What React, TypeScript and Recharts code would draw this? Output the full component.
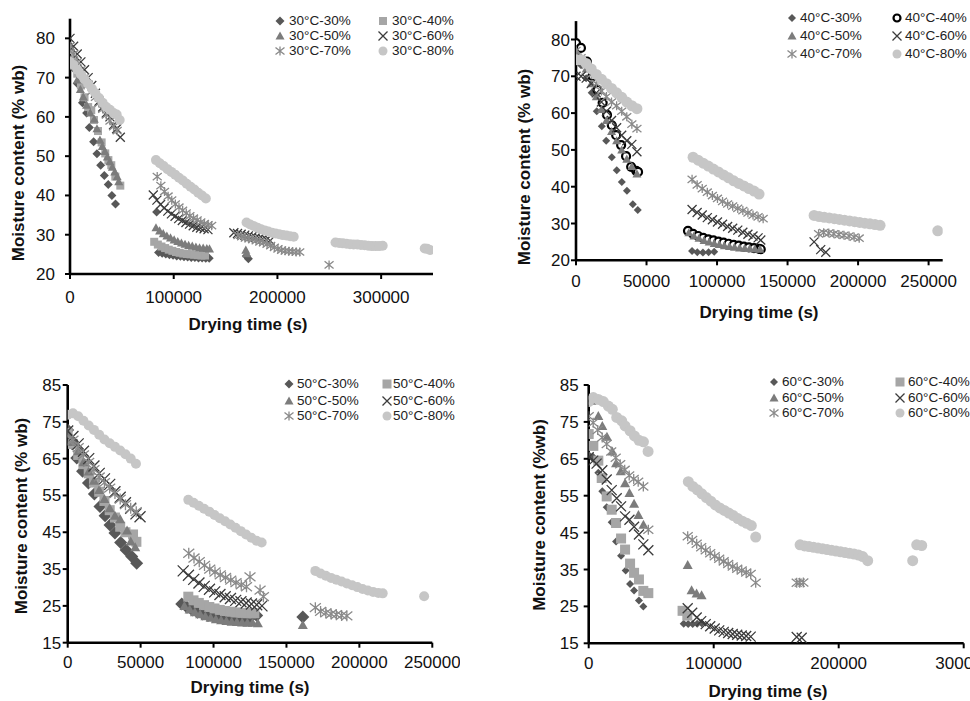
import React from 'react'
import { ScatterChart, Scatter, XAxis, YAxis } from 'recharts'

type Pt = [number, number]

// drying time (s), moisture content (% wb)

// 30 °C
const S30_30: Pt[] = [
  [0, 77], [2600, 72.5], [7000, 68.5], [12000, 63.6], [16000, 61], [18600, 57.3], [22800, 53.7],
  [26000, 50.6], [29600, 47.7], [33100, 45.1], [36900, 42.8], [40400, 40], [43900, 37.8],
  [83500, 35.8], [85400, 25.5], [88900, 25.3], [92400, 25.1], [95900, 24.9], [99400, 24.8],
  [102900, 24.6], [106400, 24.5], [109900, 24.4], [113400, 24.3], [116900, 24.2], [120400, 24.2],
  [123900, 24.1], [127400, 24.1], [130900, 24], [134200, 24],
  [170000, 24.6], [172000, 23.9],
]
const S30_40: Pt[] = [
  [0, 77], [3500, 74.5], [7000, 71], [10500, 68], [14000, 65], [17500, 62.5], [20500, 61.7],
  [23100, 59.2], [27000, 56.4], [30500, 53.5], [34000, 50.7], [37000, 49], [39800, 47.7],
  [43700, 44.8], [48500, 42.5],
  [81200, 28.2], [84700, 27.5], [88200, 27], [91700, 26.6], [95200, 26.2], [98700, 25.9],
  [102200, 25.6], [105700, 25.4], [109200, 25.2], [112700, 25.1], [116200, 25], [119700, 24.9],
  [123200, 24.8], [126700, 24.7], [130200, 24.7],
]
const S30_50: Pt[] = [
  [0, 78], [3500, 73], [7000, 69.4], [10000, 67], [12800, 65.1], [16000, 63], [19500, 61],
  [23400, 59.4], [26000, 57], [28900, 54.1], [31200, 52.5], [33600, 51.2], [36000, 49.8],
  [38400, 48.6], [40800, 47.2], [43200, 46], [45500, 44.8], [47000, 43.5],
  [82900, 31.8], [86400, 31], [89900, 30.3], [93400, 29.7], [96900, 29.2], [100400, 28.7],
  [103900, 28.3], [107400, 27.9], [110900, 27.6], [114400, 27.3], [117900, 27.1], [121400, 26.9],
  [124900, 26.7], [128400, 26.6], [131900, 26.5], [134500, 26.4],
  [169500, 26.1], [170500, 25.2],
]
const S30_60: Pt[] = [
  [0, 80], [3500, 78], [7000, 76], [10500, 74], [14000, 72], [17500, 70], [21000, 68],
  [24500, 66], [28000, 64], [31500, 62.5], [35000, 61], [38500, 60], [42000, 58], [45000, 57],
  [48500, 54.8],
  [80300, 40.1], [83800, 38.8], [87300, 37.7], [90800, 36.8], [94300, 36], [97800, 35.3],
  [101300, 34.7], [104800, 34.1], [108300, 33.6], [111800, 33.1], [115300, 32.7], [118800, 32.3],
  [122300, 31.9], [125800, 31.7], [129300, 31.5], [133000, 31.3],
  [158000, 30.5], [161500, 30.3], [165000, 30.1], [168500, 29.9], [172000, 29.7], [175500, 29.5],
  [179000, 29.3], [182500, 29.1], [186000, 28.9], [189500, 28.7], [193000, 28.5],
]
const S30_70: Pt[] = [
  [0, 78], [3500, 76], [7000, 74], [10500, 72], [14000, 70], [17500, 68.3], [21000, 66.5],
  [24500, 65], [28000, 63.5], [31500, 62], [35000, 60.5], [38500, 59], [42000, 57.5], [45500, 56.5],
  [84100, 44.8], [87600, 42.5], [91100, 41], [94600, 39.8], [98100, 38.8], [101600, 37.8],
  [105100, 37], [108600, 36.2], [112100, 35.5], [115600, 34.8], [119100, 34.2], [122600, 33.7],
  [126100, 33.2], [129600, 32.8], [133100, 32.5], [136600, 32.3],
  [162000, 29.8], [165500, 29.5], [169000, 29.2], [172500, 29], [176000, 28.8], [179500, 28.5],
  [183000, 28.2], [186500, 28], [190000, 27.6], [193500, 27.2], [197000, 26.8], [200500, 26.4],
  [204000, 26.1], [207500, 25.9], [211000, 25.8], [214500, 25.7], [218000, 25.6], [221500, 25.6],
  [249800, 22.3],
]
const S30_80: Pt[] = [
  [0, 74], [3500, 73.2], [7000, 72], [10500, 70.8], [14000, 69.6], [17500, 68.4], [21000, 67.2],
  [24500, 66], [28000, 64.8], [31500, 63.6], [35000, 62.5], [38500, 61.8], [42000, 61], [45000, 60.6],
  [47900, 59.2],
  [82900, 49], [86600, 48.2], [90300, 47.5], [94000, 46.7], [97700, 46], [101400, 45.3],
  [105100, 44.5], [108800, 43.8], [112500, 43], [116200, 42.2], [119900, 41.5], [123600, 40.7],
  [127300, 40], [131000, 39.2],
  [170200, 33.1], [173700, 32.6], [177200, 32.2], [180700, 31.8], [184200, 31.4], [187700, 31.1],
  [191200, 30.8], [194700, 30.5], [198200, 30.3], [201700, 30.1], [205200, 29.9], [208700, 29.8],
  [212200, 29.6], [215700, 29.5],
  [256000, 28], [259500, 27.9], [263000, 27.8], [266500, 27.7], [270000, 27.6], [273500, 27.5],
  [277000, 27.5], [280500, 27.4], [284000, 27.3], [287500, 27.2], [291000, 27.1], [294500, 27.1],
  [298000, 27.1], [301500, 27.2],
  [342000, 26.5], [344500, 26.4], [347000, 26.1],
]

// 40 °C
const S40_30: Pt[] = [
  [0, 76], [3600, 73], [7200, 69.5], [11100, 65.5], [14700, 60.5], [18300, 56.4], [21400, 52.5],
  [25400, 48], [28900, 44.5], [32500, 41.3], [36100, 38.9], [40300, 35.2], [43800, 33.7],
  [82300, 22.5], [86000, 22.2], [90000, 22.1], [94000, 22.2], [98000, 22.3],
]
const S40_40: Pt[] = [
  [0, 79], [3500, 77.7], [7700, 74], [11700, 70.1], [15300, 66.3], [18900, 62.8], [22000, 59.5],
  [25400, 56.7], [28500, 54], [32000, 51.3], [35500, 48.3], [39100, 45.4], [42700, 44.3], [44000, 44],
  [79400, 28], [83000, 27.2], [86600, 26.6], [90200, 26.1], [93800, 25.7], [97400, 25.4],
  [101000, 25.1], [104600, 24.8], [108200, 24.5], [111800, 24.2], [115400, 24], [119000, 23.7],
  [122600, 23.5], [126200, 23.3], [129800, 23.1], [131000, 23],
]
const S40_50: Pt[] = [
  [0, 77], [3600, 75], [7200, 72], [10800, 68], [14400, 64.5], [18000, 61], [21600, 58],
  [25200, 55], [28800, 52.5], [32400, 50], [36000, 47.5], [39600, 45.5], [43200, 43.5],
  [80000, 27.5], [83600, 26.6], [87200, 26], [90800, 25.4], [94400, 25], [98000, 24.6],
  [101600, 24.3], [105200, 24], [108800, 23.8], [112400, 23.6], [116000, 23.4], [119600, 23.3],
  [123200, 23.2], [126800, 23.1], [130400, 23],
]
const S40_60: Pt[] = [
  [0, 70], [3600, 70], [7200, 69.5], [10800, 68], [14400, 65.5], [18000, 63], [21600, 60.5],
  [25200, 58], [28800, 56], [32400, 54], [36000, 52.5], [39600, 51.5], [43200, 49.5],
  [82300, 33.8], [85900, 33], [89500, 32.3], [93100, 31.6], [96700, 31], [100300, 30.4],
  [103900, 29.8], [107500, 29.2], [111100, 28.7], [114700, 28.2], [118300, 27.6], [121900, 27.1],
  [125500, 26.6], [129100, 26.1], [131000, 25.5],
  [168800, 25], [173500, 22.9], [177100, 22.2],
]
const S40_70: Pt[] = [
  [0, 77], [3600, 75], [7200, 73], [10800, 70.5], [14400, 68], [18000, 66], [21600, 64.5],
  [25200, 63], [28800, 62], [32400, 60.5], [36000, 59], [39600, 57], [43200, 55.8],
  [82300, 42], [85900, 40.5], [89500, 39.5], [93100, 38.5], [96700, 37.6], [100300, 36.8],
  [103900, 36], [107500, 35.3], [111100, 34.7], [114700, 34.1], [118300, 33.5], [121900, 32.9],
  [125500, 32.3], [129100, 31.8], [132700, 31.3],
  [172000, 27.2], [175600, 27.5], [179200, 27.4], [182800, 27.2], [186400, 27], [190000, 26.8],
  [193600, 26.6], [197200, 26.3], [200800, 26],
]
const S40_80: Pt[] = [
  [0, 74.5], [3600, 74.5], [7200, 73.5], [10800, 72], [14400, 70.5], [18000, 69.2], [21600, 68],
  [25200, 66.7], [28800, 65.5], [32400, 64.3], [36000, 63], [39600, 62], [43200, 61.2],
  [83000, 48], [86600, 47.2], [90200, 46.4], [93800, 45.6], [97400, 44.8], [101000, 44],
  [104600, 43.2], [108200, 42.4], [111800, 41.6], [115400, 40.9], [119000, 40.2], [122600, 39.5],
  [126200, 38.8], [129800, 38],
  [168800, 32.2], [172400, 31.9], [176000, 31.7], [179600, 31.5], [183200, 31.3], [186800, 31.1],
  [190400, 30.9], [194000, 30.7], [197600, 30.5], [201200, 30.3], [204800, 30.1], [208400, 29.9],
  [212000, 29.7], [215600, 29.5],
  [256500, 28],
]

// 50 °C
const S50_30: Pt[] = [
  [0, 72.8], [3200, 69], [6200, 65.2], [10200, 61.6], [14200, 58.4], [18300, 55.4], [22100, 52],
  [25600, 49.5], [29000, 47], [32400, 44.8], [36300, 42.2], [40000, 40.2], [43900, 38.4], [47300, 36.6],
  [78200, 25.5], [81800, 24.6], [85400, 23.9], [89000, 23.3], [92600, 22.8], [96200, 22.4],
  [99800, 22.1], [103400, 21.9], [107000, 21.7], [110600, 21.6], [114200, 21.5], [117800, 21.5],
  [121400, 21.6], [125000, 21.8], [129600, 22.4],
  [161200, 22],
]
const S50_40: Pt[] = [
  [0, 72], [3600, 69], [7200, 66], [10800, 63.5], [14400, 61], [18000, 58.5], [21600, 56],
  [25200, 53.5], [28800, 51], [32400, 49], [36000, 46.5], [39600, 45], [44800, 44.4], [47100, 42.4],
  [82700, 27.5], [86300, 26.5], [89900, 25.8], [93500, 25.2], [97100, 24.7], [100700, 24.3],
  [104300, 23.9], [107900, 23.6], [111500, 23.4], [115100, 23.2], [118700, 23.1], [122300, 23],
  [125900, 23], [128000, 23],
]
const S50_50: Pt[] = [
  [0, 72], [3600, 69.5], [7200, 67], [10800, 64], [14400, 61.5], [18000, 59], [21600, 56.5],
  [25200, 54], [28800, 51.5], [32400, 49.5], [36000, 48.5], [40700, 45.5], [43200, 42.5], [46300, 40.9],
  [80000, 25], [83600, 24], [87200, 23.3], [90800, 22.7], [94400, 22.2], [98000, 21.8],
  [101600, 21.4], [105200, 21.1], [108800, 20.9], [112400, 20.7], [116000, 20.6], [119600, 20.5],
  [123200, 20.4], [126800, 20.4], [130400, 20.3],
  [161200, 19.8],
]
const S50_60: Pt[] = [
  [0, 72.5], [3600, 71], [7200, 69], [10800, 67], [14400, 65], [18000, 63], [21600, 61],
  [25200, 59.5], [28800, 58], [32400, 56], [36000, 54.5], [39600, 53], [43200, 51.5], [46800, 50],
  [49600, 49.2],
  [79200, 34.5], [82800, 33.3], [86400, 32.2], [90000, 31.2], [93600, 30.3], [97200, 29.5],
  [100800, 28.8], [104400, 28.1], [108000, 27.5], [111600, 27], [115200, 26.5], [118800, 26.1],
  [122400, 25.8], [126000, 25.5], [129600, 25.3], [133200, 25],
]
const S50_70: Pt[] = [
  [0, 70], [3600, 70], [7200, 68], [10800, 66], [14400, 64], [18000, 62], [21600, 60],
  [25200, 58.5], [28800, 57], [32400, 55.5], [36000, 54], [39600, 52.5], [43200, 51.5], [47000, 50.6],
  [83000, 39.3], [86600, 38], [90200, 37], [93800, 36], [97400, 35], [101000, 34.2],
  [104600, 33.4], [108200, 32.7], [111800, 32], [115400, 31.3], [119000, 30.7], [122600, 30.2],
  [125000, 32.9], [131900, 29.3], [134200, 27.5],
  [169800, 24.5], [173400, 23.5], [177000, 23.1], [180600, 22.8], [184200, 22.6], [187800, 22.4],
  [191400, 22.3],
]
const S50_80: Pt[] = [
  [0, 76.9], [3600, 77.3], [7200, 76.5], [10800, 75.3], [14400, 74], [18000, 72.8], [21600, 71.5],
  [25200, 70.2], [28800, 69.2], [32400, 68.2], [36000, 67.2], [39600, 66.2], [43200, 65], [46800, 63.6],
  [82700, 53.8], [86300, 53], [89900, 52.2], [93500, 51.4], [97100, 50.6], [100700, 49.7],
  [104300, 48.8], [107900, 48], [111500, 47.1], [115100, 46.2], [118700, 45.3], [122300, 44.4],
  [125900, 43.5], [129500, 42.7], [133000, 42.2],
  [169800, 34.5], [173400, 33.8], [177000, 33.2], [180600, 32.6], [184200, 32.1], [187800, 31.6],
  [191400, 31.1], [195000, 30.6], [198600, 30.1], [202200, 29.6], [205800, 29.2], [209400, 28.8],
  [213000, 28.5], [216000, 28.4],
  [244400, 27.6],
]

// 60 °C
const S60_30: Pt[] = [
  [0, 66], [3600, 65.5], [7700, 61.2], [10900, 56.2], [14400, 51.9], [18400, 47.8], [21900, 42.6],
  [25900, 38.7], [29600, 34.7], [33100, 31.1], [36300, 29.3], [40200, 26.6], [43700, 25],
  [76000, 20.3], [79600, 20.2], [83200, 20.2], [86800, 20.3], [90400, 20.4],
]
const S60_40: Pt[] = [
  [0, 71.7], [3700, 68.5], [7700, 64.5], [10400, 59.8], [14400, 54.8], [18400, 51.2], [21900, 47.6],
  [25900, 43.4], [29100, 40.4], [33100, 36.6], [36300, 34.1], [40200, 32.3], [43700, 29.2], [47700, 28.6],
  [75100, 23.8], [78900, 22.5],
]
const S60_50: Pt[] = [
  [2300, 80.7], [7700, 76.6], [10900, 73.9], [14600, 71], [18900, 67], [21900, 63.8], [25600, 61.6],
  [29100, 58.4], [32600, 55.7], [36300, 52.8], [39800, 49.8], [43800, 47.1],
  [79200, 36.2], [82300, 29.4], [86300, 28.5], [90300, 28],
]
const S60_60: Pt[] = [
  [0, 65.4], [3600, 64.5], [6300, 63.7], [10900, 61.9], [14400, 59.4], [18400, 56.5], [22400, 54.3],
  [25900, 52.1], [29100, 49.4], [32600, 48.5], [36300, 46.6], [40200, 44.5], [43700, 41.8], [47700, 40.2],
  [79200, 24.5], [82800, 23.3], [86400, 22], [90000, 21], [93600, 20.2], [97200, 19.6],
  [100800, 19], [104400, 18.5], [108000, 18.1], [111600, 17.8], [115200, 17.5], [118800, 17.3],
  [122400, 17.1], [126000, 17], [129600, 16.8],
  [166400, 16.7], [170400, 16.5],
]
const S60_70: Pt[] = [
  [0, 76.5], [3600, 74.8], [7200, 72.8], [10800, 70.8], [14400, 69], [18000, 67], [21600, 65.3],
  [25200, 63.5], [28800, 62], [32400, 60.5], [36000, 59.5], [39600, 58.8], [43700, 57.5], [47700, 45.8],
  [79200, 44], [82800, 43], [86400, 42], [90000, 41], [93600, 40.2], [97200, 39.4],
  [100800, 38.6], [104400, 37.9], [108000, 37.2], [111600, 36.5], [115200, 35.8], [118800, 35.2],
  [122400, 34.7], [126000, 34.2], [129600, 33.8], [133600, 31.4],
  [166400, 31.4], [168800, 31.4], [171700, 31.5],
]
const S60_80: Pt[] = [
  [0, 80.5], [3700, 81.6], [7700, 81.1], [11700, 80.5], [15700, 79.3], [18900, 78.4], [22400, 76.2],
  [26400, 75.3], [29100, 73.9], [33100, 72.6], [36600, 71.2], [40200, 70], [43800, 69.6], [47500, 67],
  [79700, 58.8], [83300, 57.5], [86900, 56.6], [90500, 55.5], [94100, 54.5], [97700, 53.5],
  [101300, 52.5], [104900, 51.7], [108500, 51], [112100, 50.3], [115700, 49.6], [119300, 48.8],
  [122900, 48.1], [126500, 47.5], [130100, 46.9], [133600, 43.8],
  [169100, 41.7], [172700, 41.4], [176300, 41.2], [179900, 41], [183500, 40.8], [187100, 40.6],
  [190700, 40.4], [194300, 40.2], [197900, 40], [201500, 39.8], [205100, 39.6], [208700, 39.4],
  [212300, 39.2], [215900, 38.9], [219200, 38.5], [223200, 37.4],
  [259200, 37.4], [262400, 41.7], [266400, 41.5],
]

const X_TICKS_A = [0, 100000, 200000, 300000]
const X_TICKS_B = [0, 50000, 100000, 150000, 200000, 250000]
const Y_TICKS_20 = [20, 30, 40, 50, 60, 70, 80]
const Y_TICKS_15 = [15, 25, 35, 45, 55, 65, 75, 85]

type Kind = 'diamond' | 'square' | 'triangle' | 'x' | 'star' | 'circle' | 'ring'

const FILL: Record<Kind, string> = {
  diamond: '#585858',
  square: '#a6a6a6',
  triangle: '#7c7c7c',
  x: '#3c3c3c',
  star: '#8a8a8a',
  circle: '#c6c6c6',
  ring: '#000000',
}

function Glyph({ kind, cx, cy, r }: { kind: Kind; cx: number; cy: number; r: number }) {
  const c = FILL[kind]
  switch (kind) {
    case 'diamond':
      return <path d={`M${cx},${cy - r}L${cx + r},${cy}L${cx},${cy + r}L${cx - r},${cy}Z`} fill={c} />
    case 'square':
      return <rect x={cx - r} y={cy - r} width={r * 2} height={r * 2} fill={c} />
    case 'triangle':
      return <path d={`M${cx},${cy - r}L${cx + r},${cy + r * 0.8}L${cx - r},${cy + r * 0.8}Z`} fill={c} />
    case 'x':
      return (
        <path
          d={`M${cx - r},${cy - r}L${cx + r},${cy + r}M${cx - r},${cy + r}L${cx + r},${cy - r}`}
          stroke={c}
          strokeWidth={1.3}
          fill="none"
        />
      )
    case 'star':
      return (
        <path
          d={`M${cx - r},${cy - r * 0.8}L${cx + r},${cy + r * 0.8}M${cx - r},${cy + r * 0.8}L${cx + r},${cy - r * 0.8}M${cx},${cy - r}L${cx},${cy + r}`}
          stroke={c}
          strokeWidth={1.3}
          fill="none"
        />
      )
    case 'ring':
      return <circle cx={cx} cy={cy} r={r - 1} fill="#fff" stroke={c} strokeWidth={2.2} />
    default:
      return <circle cx={cx} cy={cy} r={r} fill={c} />
  }
}

const shapeOf = (kind: Kind, r: number) => (props: any) => {
  const { cx, cy } = props
  if (cx == null || cy == null) return <g />
  return <Glyph kind={kind} cx={cx} cy={cy} r={r} />
}

interface SeriesDef {
  name: string
  data: Pt[]
  kind: Kind
  r: number
}

interface PanelDef {
  left: number
  top: number
  width: number
  height: number
  margin: { top: number; right: number; bottom: number; left: number }
  yWidth: number
  xDomain: [number, number]
  xTicks: number[]
  yDomain: [number, number]
  yTicks: number[]
  xTickMargin: number
  yTickMargin: number
  series: SeriesDef[]
  legendMarkX: number[]
  legendTextX: number[]
  legendRows: number[]
  yTitle: { x: number; y: number; text: string }
  xTitle: { x: number; y: number }
}

const PANELS: PanelDef[] = [
  {
    left: 0, top: 0, width: 460, height: 314,
    margin: { top: 18.7, right: 27, bottom: 0, left: 0 },
    yWidth: 70, xDomain: [0, 350000], xTicks: X_TICKS_A, yDomain: [20, 85], yTicks: Y_TICKS_20,
    xTickMargin: 12, yTickMargin: 10,
    series: [
      { name: '30°C-30%', data: S30_30, kind: 'diamond', r: 4.5 },
      { name: '30°C-40%', data: S30_40, kind: 'square', r: 4 },
      { name: '30°C-50%', data: S30_50, kind: 'triangle', r: 4.5 },
      { name: '30°C-60%', data: S30_60, kind: 'x', r: 4.5 },
      { name: '30°C-70%', data: S30_70, kind: 'star', r: 4.5 },
      { name: '30°C-80%', data: S30_80, kind: 'circle', r: 5 },
    ],
    legendMarkX: [280, 383], legendTextX: [289, 392], legendRows: [21, 36, 51],
    yTitle: { x: 19, y: 163, text: 'Moisture content (% wb)' },
    xTitle: { x: 248, y: 325 },
  },
  {
    left: 490, top: 0, width: 480, height: 300.3,
    margin: { top: 21.1, right: 27.3, bottom: 0, left: 0 },
    yWidth: 86, xDomain: [0, 260000], xTicks: X_TICKS_B, yDomain: [20, 85], yTicks: Y_TICKS_20,
    xTickMargin: 9.5, yTickMargin: 1,
    series: [
      { name: '40°C-30%', data: S40_30, kind: 'diamond', r: 4 },
      { name: '40°C-40%', data: S40_40, kind: 'ring', r: 5 },
      { name: '40°C-50%', data: S40_50, kind: 'triangle', r: 4.5 },
      { name: '40°C-60%', data: S40_60, kind: 'x', r: 4.5 },
      { name: '40°C-70%', data: S40_70, kind: 'star', r: 4.5 },
      { name: '40°C-80%', data: S40_80, kind: 'circle', r: 5.5 },
    ],
    legendMarkX: [792, 897], legendTextX: [800, 905], legendRows: [18, 36, 54],
    yTitle: { x: 525, y: 167, text: 'Moisture content (% wb)' },
    xTitle: { x: 759, y: 313 },
  },
  {
    left: 0, top: 340, width: 460, height: 342.7,
    margin: { top: 45, right: 27.7, bottom: 0, left: 0 },
    yWidth: 67.7, xDomain: [0, 250000], xTicks: X_TICKS_B, yDomain: [15, 85], yTicks: Y_TICKS_15,
    xTickMargin: 8, yTickMargin: 1.5,
    series: [
      { name: '50°C-30%', data: S50_30, kind: 'diamond', r: 6.5 },
      { name: '50°C-40%', data: S50_40, kind: 'square', r: 5 },
      { name: '50°C-50%', data: S50_50, kind: 'triangle', r: 5 },
      { name: '50°C-60%', data: S50_60, kind: 'x', r: 5.5 },
      { name: '50°C-70%', data: S50_70, kind: 'star', r: 5.5 },
      { name: '50°C-80%', data: S50_80, kind: 'circle', r: 5 },
    ],
    legendMarkX: [289, 387], legendTextX: [297, 393], legendRows: [384, 401, 416],
    yTitle: { x: 22, y: 516, text: 'Moisture content (% wb)' },
    xTitle: { x: 250, y: 688 },
  },
  {
    left: 490, top: 340, width: 500, height: 343.3,
    margin: { top: 45, right: 26.3, bottom: 0, left: 0 },
    yWidth: 98.7, xDomain: [0, 300000], xTicks: X_TICKS_A, yDomain: [15, 85], yTicks: Y_TICKS_15,
    xTickMargin: 8.5, yTickMargin: 5,
    series: [
      { name: '60°C-30%', data: S60_30, kind: 'diamond', r: 4 },
      { name: '60°C-40%', data: S60_40, kind: 'square', r: 5 },
      { name: '60°C-50%', data: S60_50, kind: 'triangle', r: 5 },
      { name: '60°C-60%', data: S60_60, kind: 'x', r: 5 },
      { name: '60°C-70%', data: S60_70, kind: 'star', r: 5 },
      { name: '60°C-80%', data: S60_80, kind: 'circle', r: 5.5 },
    ],
    legendMarkX: [774, 900], legendTextX: [782, 908], legendRows: [382, 398, 413],
    yTitle: { x: 540, y: 515, text: 'Moisture content (%wb)' },
    xTitle: { x: 768, y: 692 },
  },
]

const FONT = '"Liberation Sans", Arial, sans-serif'
const tickStyle = { fontSize: 17, fill: '#111', fontFamily: FONT }

function Panel({ p }: { p: PanelDef }) {
  return (
    <div style={{ position: 'absolute', left: p.left, top: p.top }}>
      <ScatterChart width={p.width} height={p.height} margin={p.margin}>
        <XAxis
          type="number"
          dataKey="t"
          domain={p.xDomain}
          ticks={p.xTicks}
          allowDataOverflow
          height={40}
          tick={tickStyle}
          tickMargin={p.xTickMargin}
          tickSize={5}
          axisLine={{ stroke: '#000', strokeWidth: 2.6 }}
          tickLine={{ stroke: '#000', strokeWidth: 2 }}
        />
        <YAxis
          type="number"
          dataKey="m"
          domain={p.yDomain}
          ticks={p.yTicks}
          allowDataOverflow
          width={p.yWidth}
          tick={tickStyle}
          tickMargin={p.yTickMargin}
          tickSize={5}
          axisLine={{ stroke: '#000', strokeWidth: 2.6 }}
          tickLine={{ stroke: '#000', strokeWidth: 2 }}
        />
        {p.series.map((s) => (
          <Scatter
            key={s.name}
            name={s.name}
            data={s.data.map(([t, m]) => ({ t, m }))}
            shape={shapeOf(s.kind, s.r)}
            isAnimationActive={false}
          />
        ))}
      </ScatterChart>
    </div>
  )
}

function Legend({ p }: { p: PanelDef }) {
  return (
    <>
      {p.series.map((s, i) => {
        const col = i % 2
        const row = Math.floor(i / 2)
        const mx = p.legendMarkX[col]
        const y = p.legendRows[row]
        const r = Math.min(s.r, 4.5)
        return (
          <React.Fragment key={s.name}>
            <svg
              width={14}
              height={14}
              style={{ position: 'absolute', left: mx - 7, top: y - 7, overflow: 'visible' }}
            >
              <Glyph kind={s.kind} cx={7} cy={7} r={r} />
            </svg>
            <div
              style={{
                position: 'absolute',
                left: p.legendTextX[col],
                top: y - 8,
                lineHeight: '16px',
                fontSize: 13.5,
                color: '#222',
                whiteSpace: 'nowrap',
              }}
            >
              {s.name}
            </div>
          </React.Fragment>
        )
      })}
    </>
  )
}

const titleStyle: React.CSSProperties = {
  position: 'absolute',
  fontWeight: 'bold',
  fontSize: 17,
  color: '#111',
  whiteSpace: 'nowrap',
  lineHeight: '20px',
}

export default function App() {
  return (
    <div
      style={{
        position: 'absolute',
        left: 0,
        top: 0,
        width: 970,
        height: 701,
        overflow: 'hidden',
        background: '#fff',
        fontFamily: FONT,
      }}
    >
      {PANELS.map((p, i) => (
        <React.Fragment key={i}>
          <Panel p={p} />
          <Legend p={p} />
          <div
            style={{
              ...titleStyle,
              left: p.yTitle.x,
              top: p.yTitle.y,
              transform: 'translate(-50%, -50%) rotate(-90deg)',
            }}
          >
            {p.yTitle.text}
          </div>
          <div
            style={{
              ...titleStyle,
              left: p.xTitle.x,
              top: p.xTitle.y,
              transform: 'translate(-50%, -50%)',
            }}
          >
            Drying time (s)
          </div>
        </React.Fragment>
      ))}
    </div>
  )
}
